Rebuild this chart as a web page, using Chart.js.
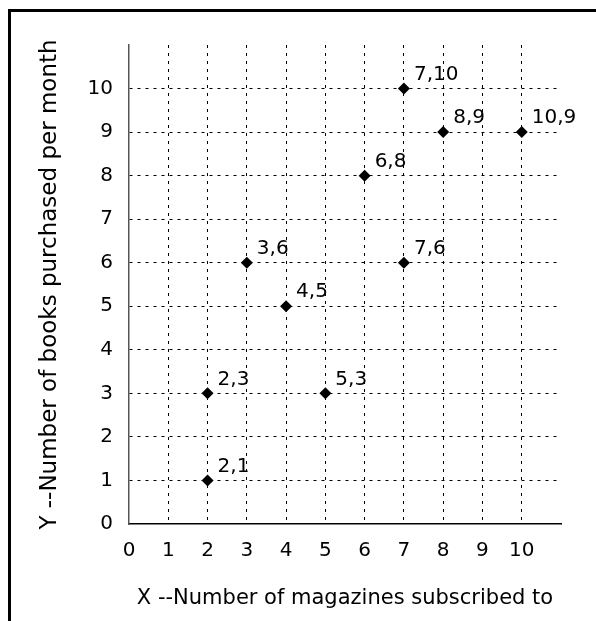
<!DOCTYPE html>
<html>
<head>
<meta charset="utf-8">
<script src="https://cdn.jsdelivr.net/npm/chart.js@4/dist/chart.umd.min.js"></script>
<style>
  html, body { margin: 0; padding: 0; background: #fff; }
  #wrap { position: relative; width: 596px; height: 621px; overflow: hidden; }
  #frame { position: absolute; left: 8px; top: 9px; width: 700px; height: 700px;
           border-left: 3px solid #000; border-top: 3px solid #000; }
  #scatter-chart { position: absolute; left: 0; top: 0; }
</style>
</head>
<body>
<div id="wrap">
  <div id="frame"></div>
  <canvas id="scatter-chart" width="596" height="621"></canvas>
</div>
<script>
const magazines = [2, 2, 3, 4, 5, 6, 7, 7, 8, 10];
const books     = [1, 3, 6, 5, 3, 8, 6, 10, 9, 9];
const xTicks = [0, 1, 2, 3, 4, 5, 6, 7, 8, 9, 10];
const yTicks = [0, 1, 2, 3, 4, 5, 6, 7, 8, 9, 10];
const xTitle = 'X --Number of magazines subscribed to';
const yTitle = 'Y --Number of books purchased per month';

const fontFamily = '"Comic Sans MS", "DejaVu Sans", sans-serif';

// write "x,y" next to every point
const pointLabels = {
    id: 'pointLabels',
    afterDatasetsDraw(chart) {
        const ctx = chart.ctx;
        const meta = chart.getDatasetMeta(0);
        ctx.save();
        ctx.font = '20px ' + fontFamily;
        ctx.fillStyle = '#000';
        ctx.textAlign = 'left';
        ctx.textBaseline = 'middle';
        meta.data.forEach((pt, i) => {
            ctx.fillText(magazines[i] + ',' + books[i], pt.x + 10, pt.y - 14);
        });
        ctx.restore();
    }
};

function gridColor(ctx) {
    const v = ctx.tick ? ctx.tick.value : null;
    return (v === 0 || v === 11) ? 'rgba(0,0,0,0)' : '#000';
}

let scatterChart = new Chart(document.getElementById("scatter-chart").getContext("2d"), {
    type: 'scatter',
    data: {
        datasets: [{
            label: 'books vs magazines',
            data: magazines.map((x, i) => ({x: x, y: books[i]})),
            pointStyle: 'rectRot',
            pointRadius: 6,
            backgroundColor: '#000',
            borderColor: '#000',
            borderWidth: 0
        }]
    },
    plugins: [pointLabels],
    options: {
        responsive: false,
        animation: false,
        layout: { padding: { left: 0, right: 35, top: 45, bottom: 0 } },
        plugins: {
            legend: { display: false },
            tooltip: { enabled: false }
        },
        scales: {
            x: {
                type: 'linear',
                min: 0,
                max: 11,
                afterFit(scale) { scale.height = 97; },
                afterBuildTicks(scale) { scale.ticks = xTicks.concat([11]).map(v => ({value: v})); },
                ticks: {
                    padding: 15,
                    color: '#000',
                    font: { family: fontFamily, size: 20 },
                    callback: v => xTicks.includes(v) ? String(v) : ''
                },
                grid: { color: gridColor, lineWidth: 1, drawTicks: false },
                border: { display: true, color: '#000', width: 1.5, dash: [3, 5] },
                title: {
                    display: true,
                    text: xTitle,
                    color: '#000',
                    font: { family: fontFamily, size: 21 },
                    padding: { top: 0, bottom: 10 }
                }
            },
            y: {
                type: 'linear',
                min: 0,
                max: 11,
                afterFit(scale) { scale.width = 129; },
                afterBuildTicks(scale) { scale.ticks = yTicks.concat([11]).map(v => ({value: v})); },
                ticks: {
                    padding: 16,
                    color: '#000',
                    font: { family: fontFamily, size: 20 },
                    callback: v => yTicks.includes(v) ? String(v) : ''
                },
                grid: { color: gridColor, lineWidth: 1, drawTicks: false },
                border: { display: true, color: '#555', width: 1.5, dash: [3, 5] },
                title: {
                    display: true,
                    text: yTitle,
                    color: '#000',
                    font: { family: fontFamily, size: 23 },
                    padding: { top: 36, bottom: 0 }
                }
            }
        }
    }
});
</script>
</body>
</html>
